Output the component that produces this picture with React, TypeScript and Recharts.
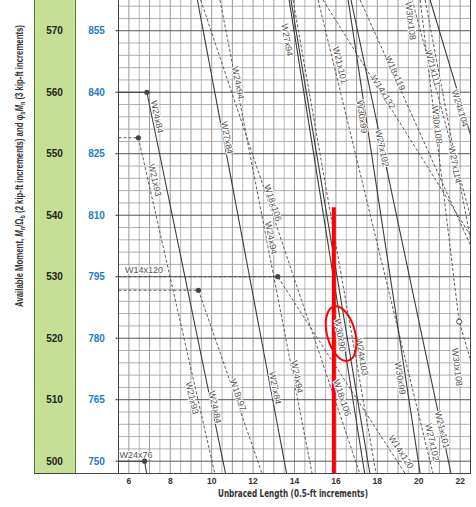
import React from "react";
import { ComposedChart, Line, Scatter, XAxis, YAxis, ReferenceLine } from "recharts";

const W = 476;
const H = 507;
const PLOT_LEFT = 118.5;
const PLOT_RIGHT = 470.5;
const PLOT_BOTTOM = 473.5;
const X_MIN = 5.5;
const X_MAX = 22.5;
const Y_MIN = 498;
const Y_MAX = 575;
const KX = (PLOT_RIGHT - PLOT_LEFT) / (X_MAX - X_MIN);
const KY = PLOT_BOTTOM / (Y_MAX - Y_MIN);

const xTicks = [6, 8, 10, 12, 14, 16, 18, 20, 22];
const asdTicks = [500, 510, 520, 530, 540, 550, 560, 570];
const lrfdTicks = [750, 765, 780, 795, 810, 825, 840, 855];

// unbraced length (ft) vs available moment Mn/Ωb (kip-ft)
const w24x76 = [{ x: 5.5, y: 500 }, { x: 6.76, y: 500 }, { x: 6.86, y: 498 }];
const w24x84 = [{ x: 5.5, y: 560 }, { x: 6.87, y: 560 }, { x: 10.67, y: 498 }];
const w21x93 = [{ x: 5.5, y: 552.6 }, { x: 6.46, y: 552.6 }, { x: 10.15, y: 498 }];
const w18x97 = [{ x: 5.5, y: 527.8 }, { x: 9.36, y: 527.8 }, { x: 12.43, y: 498 }];
const w14x120 = [{ x: 5.5, y: 530 }, { x: 13.19, y: 530 }, { x: 19.34, y: 498 }];
const w27x84 = [{ x: 9.31, y: 575 }, { x: 13.62, y: 498 }];
const w18x106 = [{ x: 9.47, y: 575 }, { x: 17.15, y: 498 }];
const w24x94 = [{ x: 10.4, y: 575 }, { x: 14.85, y: 498 }];
const w30x90 = [{ x: 13.74, y: 575 }, { x: 17.39, y: 498 }];
const w27x94 = [{ x: 13.83, y: 575 }, { x: 17.64, y: 498 }];
const w24x103 = [{ x: 13.93, y: 575 }, { x: 17.94, y: 498 }];
const w21x101 = [{ x: 15.14, y: 575 }, { x: 20.69, y: 498 }];
const w14x132 = [{ x: 15.38, y: 575 }, { x: 22.5, y: 536.7 }];
const w30x99 = [{ x: 16.59, y: 575 }, { x: 20.07, y: 498 }];
const w27x102 = [{ x: 16.73, y: 575 }, { x: 21.56, y: 498 }];
const w18x119 = [{ x: 17.17, y: 575 }, { x: 22.5, y: 535.1 }];
const w21x111 = [{ x: 19.68, y: 575 }, { x: 22.5, y: 539.8 }];
const w30x108 = [{ x: 20.07, y: 575 }, { x: 21.95, y: 522.7 }, { x: 22.5, y: 516.5 }];
const w24x104 = [{ x: 20.55, y: 575 }, { x: 22.5, y: 553.1 }];
const w27x114 = [{ x: 20.31, y: 575 }, { x: 22.5, y: 536.1 }];

const beams = [
  { name: "W24x76", pts: w24x76, solid: true },
  { name: "W24x84", pts: w24x84, solid: true },
  { name: "W21x93", pts: w21x93, solid: false },
  { name: "W18x97", pts: w18x97, solid: false },
  { name: "W14x120", pts: w14x120, solid: false },
  { name: "W27x84", pts: w27x84, solid: true },
  { name: "W18x106", pts: w18x106, solid: false },
  { name: "W24x94", pts: w24x94, solid: false },
  { name: "W30x90", pts: w30x90, solid: true },
  { name: "W27x94", pts: w27x94, solid: true },
  { name: "W24x103", pts: w24x103, solid: false },
  { name: "W21x101", pts: w21x101, solid: false },
  { name: "W14x132", pts: w14x132, solid: false },
  { name: "W30x99", pts: w30x99, solid: true },
  { name: "W27x102", pts: w27x102, solid: true },
  { name: "W18x119", pts: w18x119, solid: false },
  { name: "W21x111", pts: w21x111, solid: false },
  { name: "W30x108", pts: w30x108, solid: false },
  { name: "W24x104", pts: w24x104, solid: true },
  { name: "W27x114", pts: w27x114, solid: false },
];

// Lp points (filled) and Lr point (open)
const lpDots = [w24x76[1], w24x84[1], w21x93[1], w18x97[1], w14x120[1]];
const lrDots = [w30x108[1]];

// shape labels along the lines
const labels = [
  { text: "W24x84", beam: "W24x84", x: 7.36, y: 556.0 },
  { text: "W21x93", beam: "W21x93", x: 7.26, y: 545.7 },
  { text: "W24x94", beam: "W24x94", x: 11.27, y: 561.5 },
  { text: "W27x84", beam: "W27x84", x: 10.74, y: 552.6 },
  { text: "W27x94", beam: "W27x94", x: 13.64, y: 568.5 },
  { text: "W18x106", beam: "W18x106", x: 12.96, y: 542.0 },
  { text: "W24x94", beam: "W24x94", x: 12.87, y: 536.3 },
  { text: "W21x93", beam: "W21x93", x: 9.05, y: 510.3 },
  { text: "W24x84", beam: "W24x84", x: 10.16, y: 508.8 },
  { text: "W18x97", beam: "W18x97", x: 11.27, y: 510.8 },
  { text: "W27x84", beam: "W27x84", x: 13.06, y: 511.9 },
  { text: "W24x94", beam: "W24x94", x: 14.12, y: 513.7 },
  { text: "W30x90", beam: "W30x90", x: 16.2, y: 520.5 },
  { text: "W24x103", beam: "W24x103", x: 17.26, y: 516.95 },
  { text: "W18x106", beam: "W18x106", x: 16.3, y: 510.3 },
  { text: "W30x99", beam: "W30x99", x: 19.1, y: 513.5 },
  { text: "W21x101", beam: "W21x101", x: 21.13, y: 505.1 },
  { text: "W27x102", beam: "W27x102", x: 20.65, y: 503.1 },
  { text: "W14x120", beam: "W14x120", x: 19.15, y: 501.5 },
  { text: "W30x108", beam: "W30x108", x: 21.85, y: 515.3 },
  { text: "W30x108", beam: "W30x108", x: 19.6, y: 571.6 },
  { text: "W21x101", beam: "W21x101", x: 16.2, y: 564.4 },
  { text: "W18x119", beam: "W18x119", x: 18.86, y: 563.1 },
  { text: "W14x132", beam: "W14x132", x: 18.28, y: 560.0 },
  { text: "W30x99", beam: "W30x99", x: 17.26, y: 556.0 },
  { text: "W27x102", beam: "W27x102", x: 18.23, y: 550.9 },
  { text: "W21x111", beam: "W21x111", x: 20.69, y: 563.9 },
  { text: "W30x108", beam: "W30x108", x: 20.88, y: 554.7 },
  { text: "W24x104", beam: "W24x104", x: 21.99, y: 557.4 },
  { text: "W27x114", beam: "W27x114", x: 21.75, y: 548.2 },
  { text: "W24x76", beam: "", x: 6.35, y: 501.0 },
  { text: "W14x120", beam: "", x: 6.73, y: 531.1 },
];

const redLine = [{ x: 15.9, y: 498 }, { x: 15.9, y: 541.3 }];
const redMark = [{ x: 16.25, y: 520.75 }];

const hGrid: number[] = [];
for (let v = 500; v <= 574; v += 2) hGrid.push(v);
const vGrid: number[] = [];
for (let v = 6; v <= 22; v += 0.5) vGrid.push(v);

const FONT = "'Liberation Sans', Arial, sans-serif";
const NARROW = "'Liberation Sans Narrow', 'DejaVu Sans Condensed', 'Liberation Sans', sans-serif";

function labelAngle(beam: string, x: number) {
  const b = beams.find((d) => d.name === beam);
  if (!b) return 0;
  const pts = b.pts;
  let seg = [pts[pts.length - 2], pts[pts.length - 1]];
  for (let i = 0; i < pts.length - 1; i++) {
    const a = pts[i], c = pts[i + 1];
    if (a.y !== c.y && x >= Math.min(a.x, c.x) - 0.6 && x <= Math.max(a.x, c.x) + 0.6) {
      seg = [a, c];
      break;
    }
  }
  return (Math.atan2((seg[0].y - seg[1].y) * KY, (seg[1].x - seg[0].x) * KX) * 180) / Math.PI;
}

const LabelShape = (props: any) => {
  const { cx, cy, payload } = props;
  const ang = labelAngle(payload.beam, payload.x);
  return (
    <text
      x={cx}
      y={cy}
      transform={`rotate(${ang} ${cx} ${cy})`}
      textAnchor="middle"
      dominantBaseline="central"
      fontFamily={FONT}
      fontSize={9}
      fill="#555"
      stroke="#fff"
      strokeWidth={2}
      paintOrder="stroke"
    >
      {payload.text}
    </text>
  );
};

export default function App() {
  return (
    <div style={{ position: "absolute", left: 0, top: 0, width: W, height: H, background: "#fff" }}>
      <div
        style={{
          position: "absolute",
          left: 34,
          top: 0,
          width: 42,
          height: 473,
          background: "#c6df97",
          borderLeft: "1px solid #5f7f3c",
          borderRight: "1px solid #5f7f3c",
          boxSizing: "border-box",
        }}
      />
      <div style={{ position: "absolute", left: 34, top: 473, width: 437, height: 1, background: "#444" }} />
      <svg width={40} height={H} style={{ position: "absolute", left: 0, top: 0 }}>
        <text
          x={0}
          y={0}
          transform="translate(23 166) rotate(-90) scale(0.78 1)"
          textAnchor="middle"
          fontFamily={FONT}
          fontWeight="bold"
          fontSize={10}
          fill="#333"
        >
          Available Moment, <tspan fontStyle="italic">M</tspan>
          <tspan fontSize={7} dy={2}>n</tspan>
          <tspan dy={-2}>/Ω</tspan>
          <tspan fontSize={7} dy={2}>b</tspan>
          <tspan dy={-2}> (2 kip-ft increments) and φ</tspan>
          <tspan fontSize={7} dy={2}>b</tspan>
          <tspan dy={-2} fontStyle="italic">M</tspan>
          <tspan fontSize={7} dy={2}>n</tspan>
          <tspan dy={-2}> (3 kip-ft increments)</tspan>
        </text>
      </svg>
      <div style={{ position: "absolute", left: 0, top: 0 }}>
        <ComposedChart width={W} height={H} margin={{ top: 0, right: 5.5, bottom: 0, left: 0 }}>
          <XAxis
            type="number"
            dataKey="x"
            domain={[X_MIN, X_MAX]}
            ticks={xTicks}
            allowDataOverflow
            height={H - PLOT_BOTTOM}
            axisLine={{ stroke: "#444", strokeWidth: 1 }}
            tickLine={false}
            tick={(p: any) => (
              <text x={p.x} y={PLOT_BOTTOM + 10} textAnchor="middle" fontFamily={FONT} fontWeight="bold" fontSize={8.5} fill="#333">
                {p.payload.value}
              </text>
            )}
            label={{
              content: () => (
                <text
                  x={293}
                  y={497}
                  textAnchor="middle"
                  fontFamily={NARROW}
                  fontWeight="bold"
                  fontSize={11}
                  fill="#333"
                  textLength={150}
                  lengthAdjust="spacingAndGlyphs"
                >
                  Unbraced Length (0.5-ft increments)
                </text>
              ),
            }}
          />
          <YAxis
            yAxisId="lrfd"
            type="number"
            domain={[747, 862.5]}
            ticks={lrfdTicks}
            allowDataOverflow
            width={1}
            axisLine={false}
            tickLine={false}
            tick={(p: any) => (
              <text x={96.5} y={p.y} textAnchor="middle" dominantBaseline="central" fontFamily={FONT} fontWeight="bold" fontSize={10} fill="#1f7ccc">
                {p.payload.value}
              </text>
            )}
          />
          <YAxis
            yAxisId="asd"
            type="number"
            domain={[Y_MIN, Y_MAX]}
            ticks={asdTicks}
            allowDataOverflow
            width={PLOT_LEFT - 1}
            axisLine={false}
            tickLine={{ stroke: "#333" }}
            tickSize={3}
            tick={(p: any) => (
              <text x={54.5} y={p.y} textAnchor="middle" dominantBaseline="central" fontFamily={FONT} fontWeight="bold" fontSize={10} fill="#222">
                {p.payload.value}
              </text>
            )}
          />

          {vGrid.map((v) => (
            <ReferenceLine
              key={"v" + v}
              yAxisId="asd"
              x={v}
              stroke={Number.isInteger(v) ? "#808080" : "#a6a6a6"}
              strokeWidth={0.8}
            />
          ))}
          {hGrid.map((v) => (
            <ReferenceLine
              key={"h" + v}
              yAxisId="asd"
              y={v}
              stroke={v % 10 === 0 ? "#555" : "#9c9c9c"}
              strokeWidth={v % 10 === 0 ? 1 : 0.8}
            />
          ))}
          <ReferenceLine yAxisId="asd" x={X_MIN} stroke="#444" strokeWidth={1} />
          <ReferenceLine yAxisId="asd" x={X_MAX} stroke="#444" strokeWidth={1} />

          {beams.map((b) => (
            <Line
              key={b.name}
              yAxisId="asd"
              data={b.pts}
              dataKey="y"
              type="linear"
              stroke={b.solid ? "#3a3a3a" : "#4a4a4a"}
              strokeWidth={b.solid ? 1.1 : 0.9}
              strokeDasharray={b.solid ? undefined : "3 2"}
              dot={false}
              activeDot={false}
              isAnimationActive={false}
            />
          ))}

          <Line
            yAxisId="asd"
            data={redLine}
            dataKey="y"
            stroke="#ff0000"
            strokeWidth={4}
            dot={false}
            activeDot={false}
            isAnimationActive={false}
          />

          <Scatter yAxisId="asd" data={labels} dataKey="y" shape={LabelShape} isAnimationActive={false} />

          <Scatter
            yAxisId="asd"
            data={redMark}
            dataKey="y"
            isAnimationActive={false}
            shape={(p: any) => (
              <ellipse
                cx={p.cx}
                cy={p.cy}
                rx={14}
                ry={28}
                transform={`rotate(-15 ${p.cx} ${p.cy})`}
                fill="none"
                stroke="#ff0000"
                strokeWidth={2}
              />
            )}
          />
          <Scatter
            yAxisId="asd"
            data={lpDots}
            dataKey="y"
            isAnimationActive={false}
            shape={(p: any) => <circle cx={p.cx} cy={p.cy} r={2.6} fill="#444" />}
          />
          <Scatter
            yAxisId="asd"
            data={lrDots}
            dataKey="y"
            isAnimationActive={false}
            shape={(p: any) => <circle cx={p.cx} cy={p.cy} r={2.5} fill="#fff" stroke="#444" strokeWidth={1} />}
          />
        </ComposedChart>
      </div>
    </div>
  );
}
